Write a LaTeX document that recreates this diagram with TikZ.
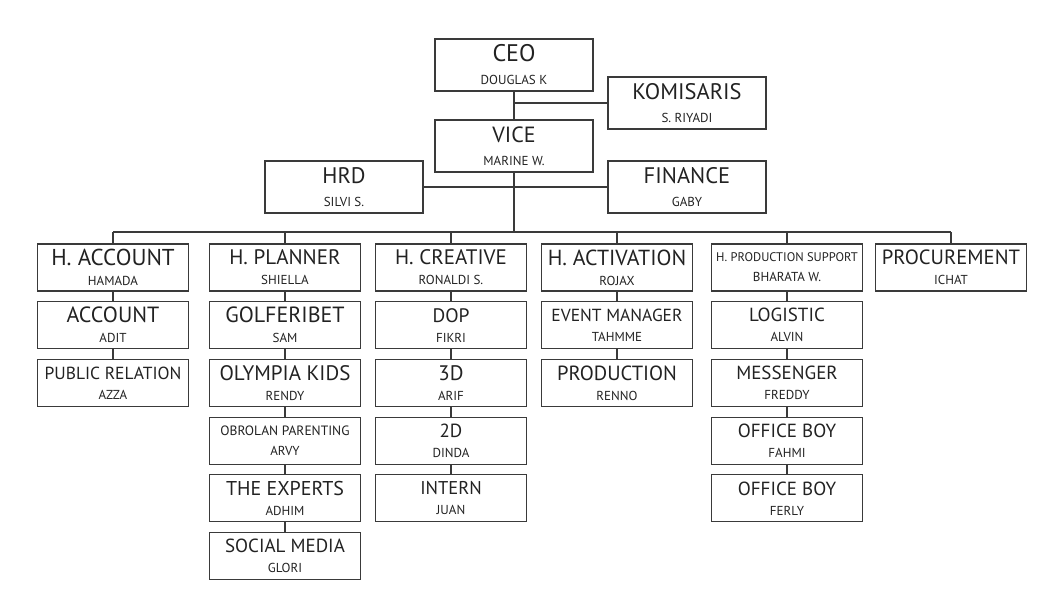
\documentclass[tikz,border=0pt]{standalone}
\usepackage{fontspec}
\setmainfont{PT Sans}
\usetikzlibrary{positioning}

\definecolor{lineGray}{HTML}{3A3A3A}
\definecolor{textGray}{HTML}{222222}

% title line, size in pt as optional argument
\newcommand{\ttl}[2][21]{{\fontsize{#1}{20}\selectfont #2}}

\begin{document}
\begin{tikzpicture}[
            x=1pt, y=-1pt,
            topNode/.style={draw=lineGray, line width=1.2pt, rectangle, align=center, inner sep=0pt, text=textGray, minimum width=158pt, minimum height=52pt, font=\fontsize{13}{23}\selectfont},
            bNode/.style={draw=lineGray, line width=1.2pt, rectangle, align=center, inner sep=0pt, text=textGray, minimum width=151pt, minimum height=47pt, font=\fontsize{13}{20}\selectfont},
            link/.style={draw=lineGray, line width=1.2pt},
            node distance=9.5pt
        ]

        \useasboundingbox (0,0) rectangle (1049,594);

        % top of the chart
        \node [topNode] (ceo) at (514,65) {\ttl[24]{CEO}\\DOUGLAS K};
        \node [topNode] (kom) at (687,103) {\ttl[22.5]{KOMISARIS}\\S. RIYADI};
        \node [topNode] (vice) at (514,146) {\ttl[22]{VICE}\\MARINE W.};
        \node [topNode] (hrd) at (344,187) {\ttl[22.5]{HRD}\\SILVI S.};
        \node [topNode] (fin) at (687,187) {\ttl[22.5]{FINANCE}\\GABY};
        \coordinate (bus) at (514,232);

        \draw [link] (ceo) -- (vice);
        \draw [link] (ceo |- kom) -- (kom);
        \draw [link] (hrd) -- (fin);
        \draw [link] (vice) -- (bus);

        % heads
        \node [bNode] (hAcc) at (113,267.5) {\ttl[23]{H. ACCOUNT}\\HAMADA};
        \node [bNode] (hPlan) at (285,267.5) {\ttl{H. PLANNER}\\SHIELLA};
        \node [bNode] (hCre) at (451,267.5) {\ttl{H. CREATIVE}\\RONALDI S.};
        \node [bNode] (hAct) at (617,267.5) {\ttl[21.8]{H. ACTIVATION}\\ROJAX};
        \node [bNode] (hProd) at (787,267.5) {\ttl[12.5]{H. PRODUCTION SUPPORT}\\BHARATA W.};
        \node [bNode] (proc) at (951,267.5) {\ttl[20.6]{PROCUREMENT}\\ICHAT};

        \draw [link] (hAcc |- bus) -- (proc |- bus);
        \foreach \h in {hAcc, hPlan, hCre, hAct, hProd, proc}
            \draw [link] (\h |- bus) -- (\h);

        % account
        \node [bNode, below=of hAcc] (acc) {\ttl[22]{ACCOUNT}\\ADIT};
        \node [bNode, below=of acc] (pr) {\ttl[17.5]{PUBLIC RELATION}\\AZZA};

        % planner
        \node [bNode, below=of hPlan] (golf) {\ttl[22]{GOLFERIBET}\\SAM};
        \node [bNode, below=of golf] (olym) {\ttl[21]{OLYMPIA KIDS}\\RENDY};
        \node [bNode, below=of olym] (obro) {\ttl[13.5]{OBROLAN PARENTING}\\ARVY};
        \node [bNode, below=of obro] (expt) {\ttl[20]{THE EXPERTS}\\ADHIM};
        \node [bNode, below=of expt] (socm) {\ttl[19]{SOCIAL MEDIA}\\GLORI};

        % creative
        \node [bNode, below=of hCre] (dop) {\ttl[19.5]{DOP}\\FIKRI};
        \node [bNode, below=of dop] (d3) {\ttl{3D}\\ARIF};
        \node [bNode, below=of d3] (d2) {\ttl[19]{2D}\\DINDA};
        \node [bNode, below=of d2] (intern) {\ttl[18.5]{INTERN}\\JUAN};

        % activation
        \node [bNode, below=of hAct] (event) {\ttl[17.5]{EVENT MANAGER}\\TAHMME};
        \node [bNode, below=of event] (prod) {\ttl[20.5]{PRODUCTION}\\RENNO};

        % production support
        \node [bNode, below=of hProd] (logi) {\ttl[19]{LOGISTIC}\\ALVIN};
        \node [bNode, below=of logi] (mess) {\ttl[19]{MESSENGER}\\FREDDY};
        \node [bNode, below=of mess] (ob1) {\ttl[19]{OFFICE BOY}\\FAHMI};
        \node [bNode, below=of ob1] (ob2) {\ttl[19]{OFFICE BOY}\\FERLY};

        \foreach \a/\b in {hAcc/acc, acc/pr, hPlan/golf, golf/olym, olym/obro, obro/expt, expt/socm,
                hCre/dop, dop/d3, d3/d2, d2/intern, hAct/event, event/prod,
                hProd/logi, logi/mess, mess/ob1, ob1/ob2}
            \draw [link] (\a) -- (\b);

    \end{tikzpicture}
\end{document}
